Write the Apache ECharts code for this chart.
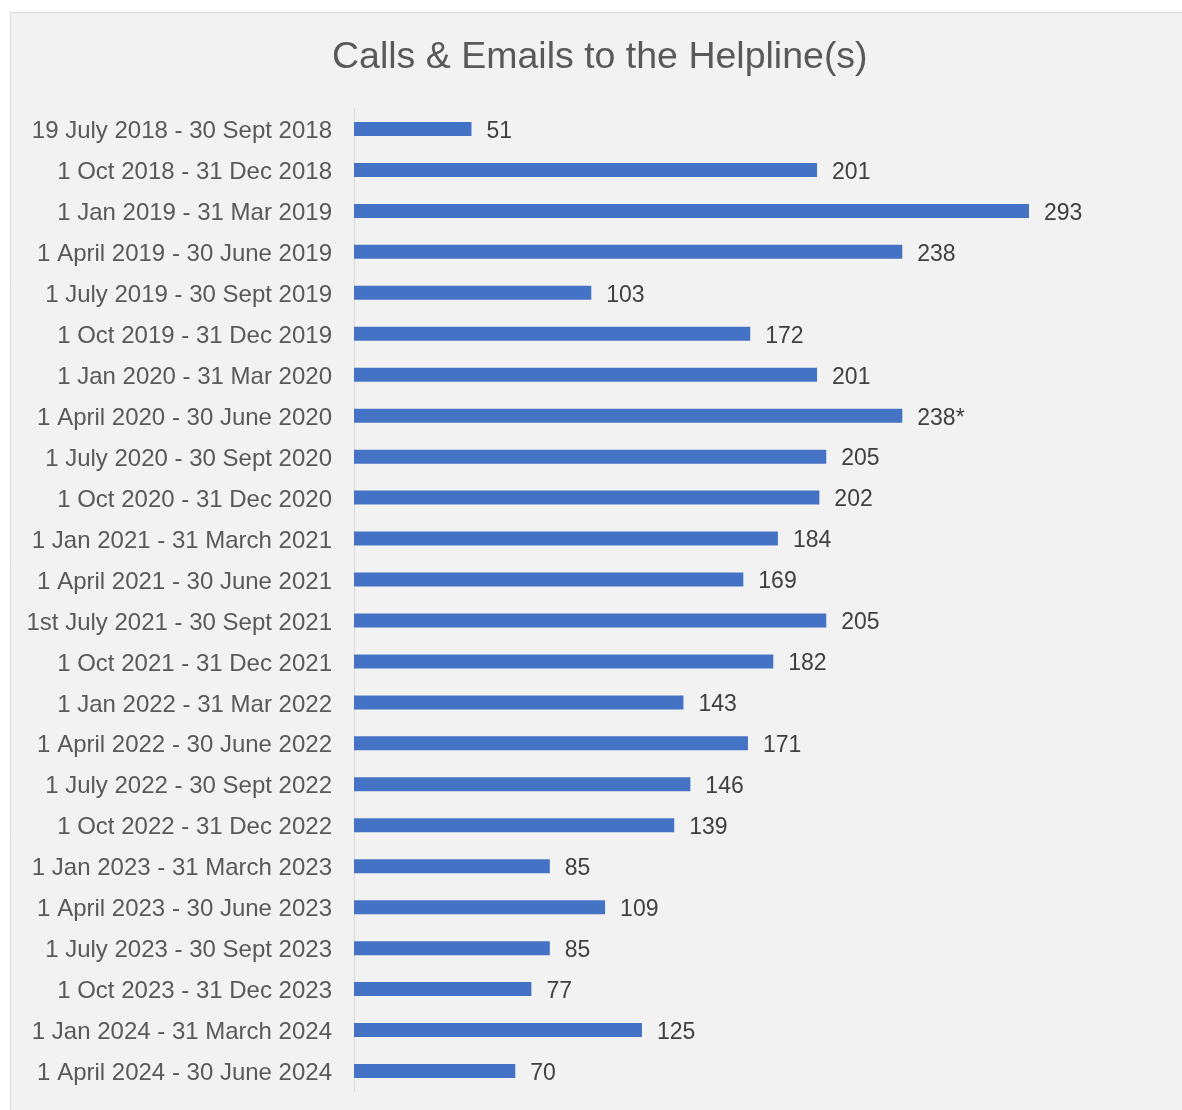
<!DOCTYPE html>
<html>
<head>
<meta charset="utf-8">
<script src="https://cdn.jsdelivr.net/npm/echarts@6/dist/echarts.min.js"></script>
<style>
html,body{margin:0;padding:0;background:#ffffff;}
#chart{width:1182px;height:1110px;}
</style>
</head>
<body>
<div id="chart"></div>
<script>
const categories = [
  "19 July 2018 - 30 Sept 2018",
  "1 Oct 2018 - 31 Dec 2018",
  "1 Jan 2019 - 31 Mar 2019",
  "1 April 2019 - 30 June 2019",
  "1 July 2019 - 30 Sept 2019",
  "1 Oct 2019 - 31 Dec 2019",
  "1 Jan 2020 - 31 Mar 2020",
  "1 April 2020 - 30 June 2020",
  "1 July 2020 - 30 Sept 2020",
  "1 Oct 2020 - 31 Dec 2020",
  "1 Jan 2021 - 31 March 2021",
  "1 April 2021 - 30 June 2021",
  "1st July 2021 - 30 Sept 2021",
  "1 Oct 2021 - 31 Dec 2021",
  "1 Jan 2022 - 31 Mar 2022",
  "1 April 2022 - 30 June 2022",
  "1 July 2022 - 30 Sept 2022",
  "1 Oct 2022 - 31 Dec 2022",
  "1 Jan 2023 - 31 March 2023",
  "1 April 2023 - 30 June 2023",
  "1 July 2023 - 30 Sept 2023",
  "1 Oct 2023 - 31 Dec 2023",
  "1 Jan 2024 - 31 March 2024",
  "1 April 2024 - 30 June 2024"
];
const values = [51, 201, 293, 238, 103, 172, 201, 238, 205, 202, 184, 169, 205, 182, 143, 171, 146, 139, 85, 109, 85, 77, 125, 70];
const valueLabels = ["51","201","293","238","103","172","201","238*","205","202","184","169","205","182","143","171","146","139","85","109","85","77","125","70"];
const titleText = "Calls & Emails to the Helpline(s)";

const FONT = '"Liberation Sans", Arial, sans-serif';
const chart = echarts.init(document.getElementById('chart'), null, {renderer: 'canvas'});
chart.setOption({
  backgroundColor: '#ffffff',
  animation: false,
  graphic: [{
    type: 'rect',
    z: -10,
    silent: true,
    shape: {x: 10.5, y: 12.5, width: 1300, height: 1300},
    style: {fill: '#f2f2f2', stroke: '#d9d9d9', lineWidth: 1}
  }],
  title: {
    text: titleText,
    left: 327,
    top: 34,
    textStyle: {fontFamily: FONT, fontSize: 37.5, fontWeight: 'normal', color: '#595959'}
  },
  grid: {left: 354, right: 21.7, top: 108.5, bottom: 18.5, containLabel: false},
  xAxis: {
    type: 'value', min: 0, max: 350, show: false,
    splitLine: {show: false}
  },
  yAxis: {
    type: 'category',
    data: categories,
    inverse: true,
    axisLine: {show: true, lineStyle: {color: '#d9d9d9', width: 1}},
    axisTick: {show: false},
    axisLabel: {
      margin: 22,
      fontFamily: FONT,
      fontSize: 24,
      color: '#595959',
      formatter: v => '{a|' + v + '}',
      rich: {
        a: {fontFamily: FONT, fontSize: 24, color: '#595959', padding: [5, 0, 0, 0]}
      }
    }
  },
  series: [{
    type: 'bar',
    data: values,
    barWidth: 14,
    itemStyle: {color: '#4472C4'},
    label: {
      show: true,
      position: 'right',
      distance: 15,
      offset: [0, 2.5],
      fontFamily: FONT,
      fontSize: 23,
      color: '#404040',
      formatter: p => valueLabels[p.dataIndex]
    }
  }]
});
</script>
</body>
</html>
